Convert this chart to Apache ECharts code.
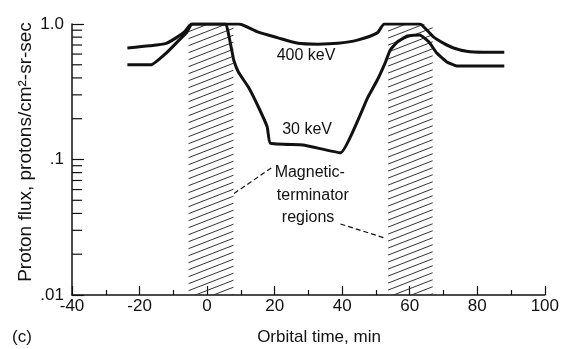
<!DOCTYPE html>
<html><head><meta charset="utf-8">
<script src="https://cdn.jsdelivr.net/npm/echarts@6/dist/echarts.min.js"></script>
<style>html,body{margin:0;padding:0;background:#fff}#c{width:562px;height:349px}</style>
</head><body><div id="c"></div>
<script>
// ---- data ----
const xRange = [-40, 100];
const xInterval = 20;
const yRange = [0.01, 1];
const yTickLabels = ['.01', '.1', '1.0'];

const kev400Time = [-23.6, -17.1, -12.1, -9.2, -6.8, -4.5, 9.3, 15.2, 21.0, 26.9, 32.8, 38.7, 44.5, 50.4, 52.5, 63.0, 65.1, 67.1, 70.1, 73.0, 76.8, 81.8, 88.0];
const kev400Flux = [0.665, 0.69, 0.72, 0.79, 0.87, 1.0, 1.0, 0.87, 0.79, 0.72, 0.71, 0.72, 0.76, 0.86, 1.0, 1.0, 0.90, 0.80, 0.72, 0.665, 0.63, 0.62, 0.62];

const kev30Time = [-23.6, -16.5, -12.1, -8.3, -6.0, -4.5, 5.5, 6.4, 7.3, 7.9, 9.3, 12.3, 15.2, 17.8, 18.7, 28.4, 39.5, 47.5, 50.4, 52.7, 54.2, 56.3, 59.3, 63.0, 65.7, 68.0, 71.0, 73.9, 79.8, 88.0];
const kev30Flux = [0.50, 0.50, 0.61, 0.76, 0.87, 1.0, 1.0, 0.83, 0.64, 0.54, 0.44, 0.34, 0.244, 0.174, 0.132, 0.128, 0.112, 0.284, 0.386, 0.515, 0.64, 0.736, 0.815, 0.83, 0.736, 0.61, 0.525, 0.49, 0.49, 0.49];

const terminatorRegions = [[-5.5, 7.8], [53.6, 66.8]];

const curveLabelText = ['400 keV', '30 keV'];
const curveLabelAt = [[29.3, 0.58], [29.6, 0.165]];
const noteText = ['Magnetic-', 'terminator', 'regions'];
const noteAt = [[30.4, 0.0795], [31.3, 0.0538], [29.9, 0.037]];
const leaderLines = [[[19.0, 0.0865], [7.3, 0.0547]], [[39.5, 0.0334], [52.7, 0.0263]]];

const xTitle = 'Orbital time, min';
const yTitle = 'Proton flux, protons/cm²-sr-sec';
const panelTag = '(c)';

// ---- styles ----
const FONT = '"Liberation Sans", Arial, sans-serif';
const INK = '#111';

function hatchCanvas() {
  const w = 18, h = 7;
  const c = document.createElement('canvas');
  c.width = w; c.height = h;
  const g = c.getContext('2d');
  g.strokeStyle = '#333'; g.lineWidth = 1;
  for (const dy of [-h, 0, h]) {
    g.beginPath(); g.moveTo(0, h + dy); g.lineTo(w, dy); g.stroke();
  }
  return c;
}

const zip = (a, b) => a.map((v, i) => [v, b[i]]);

const chart = echarts.init(document.getElementById('c'), null, {renderer: 'canvas'});
chart.setOption({
  animation: false,
  backgroundColor: '#fff',
  grid: {left: 72, right: 13, top: 24, bottom: 54},
  xAxis: {
    type: 'value', min: xRange[0], max: xRange[1], interval: xInterval,
    axisLine: {onZero: false, lineStyle: {color: INK, width: 1.5}},
    axisTick: {inside: true, length: 9, lineStyle: {color: INK, width: 1.2}},
    minorTick: {show: true, splitNumber: 2, length: 5, lineStyle: {color: INK, width: 1.2}},
    axisLabel: {color: INK, fontSize: 17, fontFamily: FONT, margin: 3},
    splitLine: {show: false}
  },
  yAxis: {
    type: 'log', logBase: 10, min: yRange[0], max: yRange[1],
    axisLine: {show: true, onZero: false, lineStyle: {color: INK, width: 1.5}},
    axisTick: {inside: true, length: 12, lineStyle: {color: INK, width: 1.2}},
    axisLabel: {color: INK, fontSize: 17, fontFamily: FONT, margin: 8,
      formatter: v => v > 0.5 ? yTickLabels[2] : (v > 0.05 ? yTickLabels[1] : yTickLabels[0])},
    splitLine: {show: false}
  },
  series: [
    {
      type: 'line', data: [], silent: true,
      markArea: {
        silent: true,
        itemStyle: {color: {image: hatchCanvas(), repeat: 'repeat'}, borderWidth: 0},
        data: terminatorRegions.map(r => [{xAxis: r[0]}, {xAxis: r[1]}])
      }
    },
    {
      name: '400 keV', type: 'line', data: zip(kev400Time, kev400Flux),
      showSymbol: false, smooth: 0.2, lineStyle: {color: INK, width: 3}
    },
    {
      name: '30 keV', type: 'line', data: zip(kev30Time, kev30Flux),
      showSymbol: false, smooth: 0.12, lineStyle: {color: INK, width: 3},
      markLine: {
        silent: true, symbol: ['none', 'none'], label: {show: false},
        lineStyle: {color: INK, width: 1.2, type: [5, 3]},
        data: leaderLines.map(([a, b]) => [{coord: a}, {coord: b}])
      }
    }
  ]
});

// extra graphics positioned through the chart's own scales
const px = p => chart.convertToPixel({xAxisIndex: 0, yAxisIndex: 0}, p);
const g = [];
// log-axis minor ticks (2..9 per decade)
const x0 = chart.convertToPixel({xAxisIndex: 0}, xRange[0]);
for (const dec of [0.01, 0.1]) {
  for (let k = 2; k <= 9; k++) {
    const y = chart.convertToPixel({yAxisIndex: 0}, k * dec);
    g.push({type: 'line', shape: {x1: x0, y1: y, x2: x0 + 10, y2: y}, style: {stroke: INK, lineWidth: 1.2}, silent: true});
  }
}
const textStyle = (t, size) => ({text: t, fill: INK, font: size + 'px ' + FONT, textAlign: 'center', textVerticalAlign: 'middle'});
curveLabelText.forEach((t, i) => {
  const p = px(curveLabelAt[i]);
  g.push({type: 'text', x: p[0], y: p[1], style: textStyle(t, 16), silent: true});
});
noteText.forEach((t, i) => {
  const p = px(noteAt[i]);
  g.push({type: 'text', x: p[0], y: p[1], style: textStyle(t, 16), silent: true});
});
g.push({type: 'text', x: 319, y: 337, style: textStyle(xTitle, 17), silent: true});
g.push({type: 'text', x: 22, y: 337, style: textStyle(panelTag, 17), silent: true});
g.push({type: 'text', x: 26, y: 152, rotation: Math.PI / 2, style: textStyle(yTitle, 19), silent: true});
chart.setOption({graphic: g});
</script>
</body></html>
